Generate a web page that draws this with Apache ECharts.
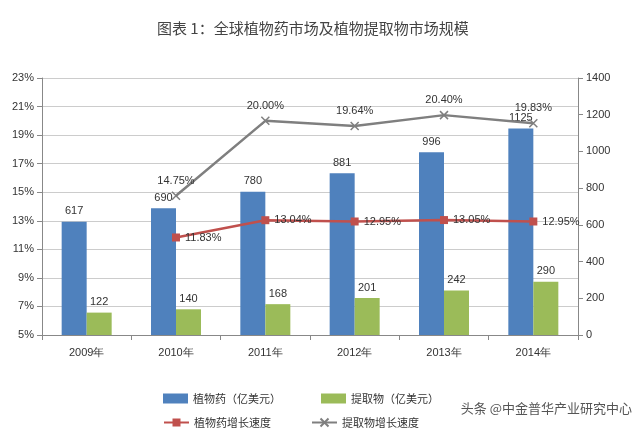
<!DOCTYPE html>
<html><head><meta charset="utf-8">
<script src="https://cdn.jsdelivr.net/npm/echarts@6/dist/echarts.min.js"></script>
<style>html,body{margin:0;padding:0;background:#fff}#c{width:640px;height:435px}</style>
</head><body><div id="c"></div>
<script>
const categories=['2009年','2010年','2011年','2012年','2013年','2014年'];
const herbal=[617,690,780,881,996,1125];
const extract=[122,140,168,201,242,290];
const herbalGrowth=[null,11.83,13.04,12.95,13.05,12.95];
const extractGrowth=[null,14.75,20.00,19.64,20.40,19.83];
const leftTicks=[5,23,2];
const rightTicks=[0,1400,200];
const f='"Noto Sans CJK SC", sans-serif';
const chart=echarts.init(document.getElementById('c'));
const lt={fontSize:11,fontFamily:f,color:'#333'};
chart.setOption({
  animation:false,
  title:{text:'图表 1：全球植物药市场及植物提取物市场规模',left:152,top:16,textStyle:{fontSize:15,fontWeight:'normal',color:'#444',fontFamily:f}},
  graphic:[{type:'text',right:8,top:402,style:{text:'头条 @中金普华产业研究中心',fill:'#555',font:'13px '+f}}],
  legend:[
    {left:158,top:388,itemGap:40,itemHeight:10,textStyle:lt,data:[{name:'植物药（亿美元）',icon:'rect'},{name:'提取物（亿美元）',icon:'rect'}]},
    {left:158,top:412,itemGap:40,itemHeight:10,textStyle:lt,data:['植物药增长速度','提取物增长速度']}
  ],
  grid:{left:42,right:62,top:78,bottom:100},
  xAxis:{type:'category',data:categories,axisTick:{show:true},axisLine:{lineStyle:{color:'#888'}},
    axisLabel:{color:'#333',fontSize:11,margin:12}},
  yAxis:[
    {type:'value',min:leftTicks[0],max:leftTicks[1],interval:leftTicks[2],axisLabel:{formatter:'{value}%',color:'#333',fontSize:11},
     axisLine:{show:true,lineStyle:{color:'#888'}},axisTick:{show:true},splitLine:{lineStyle:{color:'#ccc'}}},
    {type:'value',min:rightTicks[0],max:rightTicks[1],interval:rightTicks[2],axisLabel:{color:'#333',fontSize:11,formatter:v=>String(v)},
     axisLine:{show:true,lineStyle:{color:'#888'}},axisTick:{show:true},splitLine:{show:false}}
  ],
  series:[
    {name:'植物药（亿美元）',type:'bar',yAxisIndex:1,data:herbal,barWidth:25,barGap:'0%',itemStyle:{color:'#4f81bd'},
     label:{show:true,position:'top',color:'#333',fontSize:11}},
    {name:'提取物（亿美元）',type:'bar',yAxisIndex:1,data:extract,barWidth:25,itemStyle:{color:'#9bbb59'},
     label:{show:true,position:'top',color:'#333',fontSize:11}},
    {name:'植物药增长速度',type:'line',yAxisIndex:0,data:herbalGrowth,symbol:'rect',symbolSize:8,
     lineStyle:{color:'#c0504d',width:2.5},itemStyle:{color:'#c0504d'},
     label:{show:true,position:'right',formatter:p=>p.value.toFixed(2)+'%',color:'#333',fontSize:11}},
    {name:'提取物增长速度',type:'line',yAxisIndex:0,data:extractGrowth,symbol:'path://M0,0L10,10M10,0L0,10',symbolSize:8,
     lineStyle:{color:'#7f7f7f',width:2.5},itemStyle:{color:'#7f7f7f',borderColor:'#7f7f7f',borderWidth:1.5},
     label:{show:true,position:'top',formatter:p=>p.value.toFixed(2)+'%',color:'#333',fontSize:11}}
  ]
});
</script></body></html>
